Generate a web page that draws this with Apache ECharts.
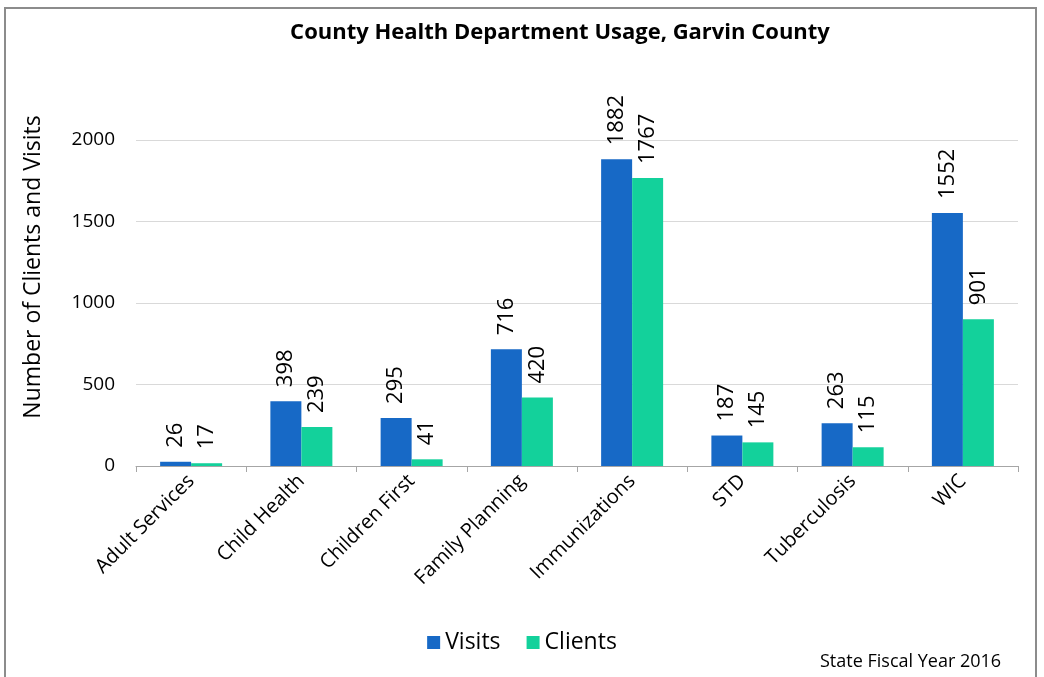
<!DOCTYPE html>
<html>
<head>
<meta charset="utf-8">
<script src="https://cdn.jsdelivr.net/npm/echarts@6/dist/echarts.min.js"></script>
<style>
  html, body { margin: 0; padding: 0; background: #fff; }
  #chart { width: 1044px; height: 677px; }
</style>
</head>
<body>
<div id="chart"></div>
<script>
// data
const categories = ['Adult Services', 'Child Health', 'Children First', 'Family Planning',
  'Immunizations', 'STD', 'Tuberculosis', 'WIC']
const visits = [26, 398, 295, 716, 1882, 187, 263, 1552]
const clients = [17, 239, 41, 420, 1767, 145, 115, 901]
const yTicks = [0, 500, 1000, 1500, 2000]

const font = '"Open Sans", "Noto Sans", sans-serif'

const chart = echarts.init(document.getElementById('chart'))

const barLabel = {
  show: true,
  position: 'top',
  rotate: 90,
  align: 'left',
  verticalAlign: 'middle',
  distance: 14,
  color: '#000',
  fontSize: 22,
  fontFamily: font
}

chart.setOption({
  animation: false,
  backgroundColor: '#fff',
  graphic: [{
    type: 'rect',
    shape: { x: 5, y: 8, width: 1031, height: 680 },
    style: { fill: 'none', stroke: '#8c8c8c', lineWidth: 2 },
    silent: true
  }, {
    // axis title sits a bit above the plot's middle, as in the original
    type: 'text',
    x: 33,
    y: 267,
    rotation: Math.PI / 2,
    style: {
      text: 'Number of Clients and Visits',
      font: '23px ' + font,
      fill: '#000',
      align: 'center',
      verticalAlign: 'middle'
    },
    silent: true
  }],
  title: [{
    text: 'County Health Department Usage, Garvin County',
    left: 555,
    top: 17,
    textAlign: 'center',
    textStyle: { fontFamily: font, fontWeight: 'bold', fontSize: 22, color: '#000' }
  }, {
    text: 'State Fiscal Year 2016',
    left: 815,
    top: 648,
    textStyle: { fontFamily: font, fontWeight: 'normal', fontSize: 18, color: '#000' }
  }],
  legend: {
    data: ['Visits', 'Clients'],
    left: 'center',
    top: 626,
    itemWidth: 13,
    itemHeight: 13,
    itemGap: 26,
    icon: 'rect',
    textStyle: { fontFamily: font, fontSize: 23, color: '#000' }
  },
  grid: {
    left: 136,
    right: 26,
    top: 140,
    bottom: 211,
    containLabel: false
  },
  xAxis: {
    type: 'category',
    data: categories,
    axisLine: { lineStyle: { color: '#a6a6a6', width: 1 } },
    axisTick: { show: true, length: 6, lineStyle: { color: '#a6a6a6' } },
    axisLabel: {
      rotate: 45,
      interval: 0,
      margin: 12,
      color: '#000',
      fontSize: 20,
      fontFamily: font
    }
  },
  yAxis: {
    type: 'value',
    min: yTicks[0],
    max: yTicks[yTicks.length - 1],
    interval: 500,
    axisLine: { show: false },
    axisTick: { show: false },
    axisLabel: {
      color: '#000', fontSize: 19, fontFamily: font, margin: 21,
      formatter: v => String(v)
    },
    splitLine: { lineStyle: { color: '#d9d9d9', width: 1 } }
  },
  series: [{
    name: 'Visits',
    type: 'bar',
    data: visits,
    barWidth: 31,
    barGap: '0%',
    itemStyle: { color: '#1769c6' },
    label: barLabel
  }, {
    name: 'Clients',
    type: 'bar',
    data: clients,
    barWidth: 31,
    itemStyle: { color: '#13d19b' },
    label: barLabel
  }]
})
</script>
</body>
</html>
